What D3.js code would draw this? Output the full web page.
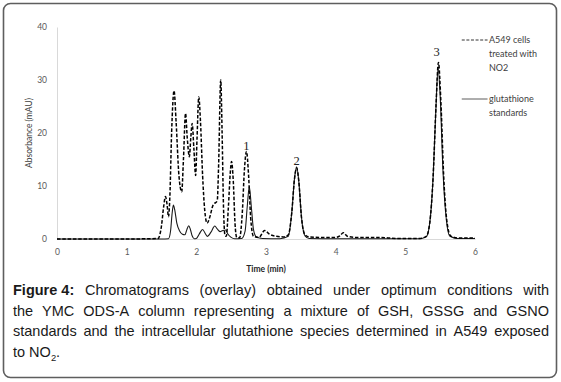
<!DOCTYPE html>
<html><head><meta charset="utf-8">
<script src="https://cdn.jsdelivr.net/npm/d3@7"></script>
<style>body{margin:0;background:#fff}svg{display:block}</style>
</head><body><svg id="c" width="561" height="382"></svg>
<script>
// ---- data ----
const xTicks = [0, 1, 2, 3, 4, 5, 6];
const yTicks = [0, 10, 20, 30, 40];

// A549 cells treated with NO2 (dashed)
const cellsTime = [0,1.0,1.3,1.45,1.50,1.53,1.557,1.58,1.60,1.62,1.645,1.68,1.71,1.75,1.79,1.815,1.845,1.87,1.90,1.92,1.94,1.965,1.99,2.01,2.035,2.06,2.09,2.12,2.155,2.19,2.24,2.30,2.32,2.35,2.37,2.39,2.41,2.43,2.46,2.49,2.505,2.53,2.555,2.58,2.62,2.66,2.69,2.72,2.75,2.78,2.82,2.9,2.98,3.05,3.15,3.25,3.32,3.37,3.41,3.44,3.47,3.51,3.56,3.62,3.8,4.0,4.06,4.11,4.17,4.3,4.6,4.9,5.2,5.3,5.35,5.40,5.44,5.475,5.51,5.55,5.60,5.65,5.75,6];
const cellsAbs  = [0,0,0.05,0.1,2.5,6,8.0,6.5,4.2,8,20,28,22,12,8.9,15,23.7,19,15.5,19,21.8,17,12,19,26.8,22,12,5.5,3,4,6.4,7.2,14,30,20,6,0.8,0.5,6,13,14.6,11,3,0.3,0.2,5,13,16.5,12,4,0.5,0.3,1.6,0.9,0.5,0.4,0.8,5,11.5,13.4,11,4,0.8,0.4,0.3,0.3,0.6,1.2,0.5,0.3,0.3,0.1,0.1,0.5,3,12,25,33.3,26,12,3,0.6,0.2,0.2];

// glutathione standards (solid)
const stdTime = [0,1.5,1.60,1.63,1.65,1.67,1.69,1.72,1.76,1.80,1.835,1.865,1.89,1.915,1.94,1.97,2.0,2.04,2.09,2.13,2.16,2.21,2.265,2.30,2.34,2.38,2.42,2.45,2.50,2.55,2.65,2.70,2.73,2.76,2.79,2.82,2.86,2.95,3.2,3.32,3.37,3.41,3.44,3.47,3.51,3.56,3.62,4.0,5.2,5.3,5.35,5.40,5.44,5.47,5.50,5.54,5.59,5.64,5.75,6];
const stdAbs  = [0,0,0.05,1.5,4.5,6.4,5.5,3,1.5,0.9,0.8,1.8,2.5,1.8,0.6,0.05,0.1,0.9,1.8,1.0,0.5,1.3,2.45,1.9,1.4,1.6,1.7,1.0,0.3,0.05,0.1,1.5,6,9.9,6,1.8,0.4,0.1,0.05,0.5,5,11.5,13.6,11,4,0.6,0.1,0.05,0.05,0.4,3,12,25,32.2,27,13,3.5,0.5,0.1,0.1];

const peakLabels = ["1", "2", "3"];
const peakTimes  = [2.72, 3.44, 5.45];
const peakTops   = [16.5, 13.6, 34.2];

const legendCells = ["A549 cells", "treated with", "NO2"];
const legendStd   = ["glutathione", "standards"];

const xTitle = "Time (min)";
const yTitle = "Absorbance (mAU)";

const captionLines = [
  ["Figure 4:", "Chromatograms", "(overlay)", "obtained", "under", "optimum", "conditions", "with"],
  ["the", "YMC", "ODS-A", "column", "representing", "a", "mixture", "of", "GSH,", "GSSG", "and", "GSNO"],
  ["standards", "and", "the", "intracellular", "glutathione", "species", "determined", "in", "A549", "exposed"]
];

// ---- drawing ----
const svg = d3.select("#c");
svg.append("rect").attr("width", 561).attr("height", 382).attr("fill", "#fff");
svg.append("rect").attr("x", 3.5).attr("y", 3.5).attr("width", 553).attr("height", 374)
  .attr("rx", 7).attr("fill", "none").attr("stroke", "#5e5e5e").attr("stroke-width", 1.6);

const x = d3.scaleLinear().domain([0, 6]).range([57, 475]);
const y = d3.scaleLinear().domain([0, 40]).range([239, 27]);

const tickFont = "Lato, 'Open Sans', sans-serif";

const xa = svg.append("g").attr("transform", "translate(0,239)")
  .call(d3.axisBottom(x).tickValues(xTicks).tickSize(0).tickPadding(10).tickFormat(d3.format("d")));
xa.select(".domain").attr("stroke", "#d9d9d9");
xa.selectAll("text").attr("font-family", tickFont).attr("font-size", 8.5).attr("fill", "#595959");

const ya = svg.append("g").attr("transform", "translate(57,0)")
  .call(d3.axisLeft(y).tickValues(yTicks).tickSize(0).tickPadding(10).tickFormat(d3.format("d")));
ya.select(".domain").attr("stroke", "#d9d9d9");
ya.selectAll("text").attr("font-family", tickFont).attr("font-size", 8.5).attr("fill", "#595959");

svg.append("text").attr("transform", "translate(32,133) rotate(-90)")
  .attr("text-anchor", "middle").attr("font-family", tickFont).attr("font-size", 8.5)
  .attr("fill", "#404040").text(yTitle);
svg.append("text").attr("x", 266).attr("y", 272).attr("text-anchor", "middle")
  .attr("font-family", tickFont).attr("font-size", 8.5).attr("font-weight", "bold")
  .attr("fill", "#262626").text(xTitle);

const line = d3.line().x(d => x(d[0])).y(d => y(d[1])).curve(d3.curveMonotoneX);
const stdData = stdTime.map((t, i) => [t, stdAbs[i]]);
const cellsData = cellsTime.map((t, i) => [t, cellsAbs[i]]);

svg.append("path").datum(stdData).attr("d", line).attr("fill", "none")
  .attr("stroke", "#1a1a1a").attr("stroke-width", 1.1);
svg.append("path").datum(cellsData).attr("d", line).attr("fill", "none")
  .attr("stroke", "#000").attr("stroke-width", 1.5).attr("stroke-dasharray", "3.5,1.8");

svg.selectAll(".pk").data(peakLabels).enter().append("text")
  .attr("x", (d, i) => x(peakTimes[i])).attr("y", (d, i) => y(peakTops[i]) - 2)
  .attr("text-anchor", "middle").attr("font-family", "'Liberation Serif', serif")
  .attr("font-size", 12.5).attr("fill", "#222").text(d => d);

// legend
svg.append("line").attr("x1", x(5.81)).attr("x2", x(6.18)).attr("y1", 40).attr("y2", 40)
  .attr("stroke", "#333").attr("stroke-width", 1).attr("stroke-dasharray", "3,1.6");
svg.append("line").attr("x1", x(5.81)).attr("x2", x(6.18)).attr("y1", 99).attr("y2", 99)
  .attr("stroke", "#333").attr("stroke-width", 0.8);
legendCells.forEach((t, i) => svg.append("text").attr("x", 489).attr("y", 43 + i * 14)
  .attr("font-family", tickFont).attr("font-size", 9).attr("fill", "#404040").text(t));
legendStd.forEach((t, i) => svg.append("text").attr("x", 489).attr("y", 102 + i * 14)
  .attr("font-family", tickFont).attr("font-size", 9).attr("fill", "#404040").text(t));

// caption, justified manually
const capFont = "'Liberation Sans', Arial, sans-serif";
const left = 13, right = 549, fs = 14.5, lh = 20.7, base0 = 295;
captionLines.forEach((words, li) => {
  const g = svg.append("g");
  const nodes = words.map((w, wi) => g.append("text")
    .attr("font-family", capFont).attr("font-size", fs)
    .attr("font-weight", li === 0 && wi === 0 ? "bold" : "normal")
    .attr("fill", "#1a1a1a").attr("y", base0 + li * lh).text(w));
  const widths = nodes.map(n => n.node().getComputedTextLength());
  const total = widths.reduce((a, b) => a + b, 0);
  const gap = (right - left - total) / (words.length - 1);
  let cx = left;
  nodes.forEach((n, i) => { n.attr("x", cx); cx += widths[i] + gap; });
});
const last = svg.append("text").attr("x", left).attr("y", base0 + 3 * lh)
  .attr("font-family", capFont).attr("font-size", fs).attr("fill", "#1a1a1a");
last.append("tspan").text("to NO");
last.append("tspan").attr("font-size", fs * 0.65).attr("dy", 4).text("2");
last.append("tspan").attr("dy", -4).text(".");
</script></body></html>
